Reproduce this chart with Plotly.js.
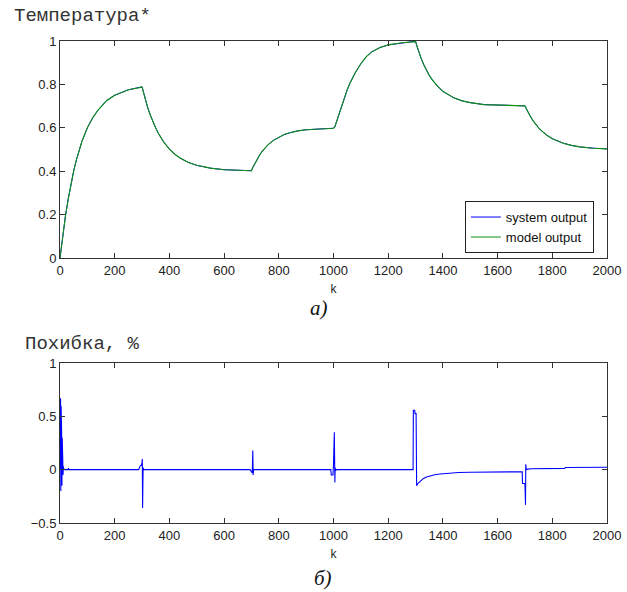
<!DOCTYPE html>
<html>
<head>
<meta charset="utf-8">
<script src="https://cdn.plot.ly/plotly-3.0.1.min.js"></script>
<style>html,body{margin:0;padding:0;background:#fff;}#chart{width:627px;height:592px;}</style>
</head>
<body>
<div id="chart"></div>
<script>
// Top panel: temperature (normalised)
const kTemp = [0,5,10,20,30,40,50,60,80,100,120,140,170,200,250,300,
  305,310,320,330,340,350,360,380,400,420,440,470,500,550,600,650,700,
  705,710,720,730,740,750,760,780,800,820,840,870,900,950,1000,
  1005,1010,1020,1030,1040,1050,1060,1080,1100,1120,1140,1170,1200,1250,1300,
  1305,1310,1320,1330,1340,1350,1360,1380,1400,1420,1440,1470,1500,1550,1600,1650,1700,
  1705,1710,1720,1730,1740,1750,1760,1780,1800,1820,1840,1870,1900,1950,2000];
const systemOutput = [0,0.054,0.104,0.194,0.271,0.342,0.401,0.452,0.537,0.600,0.647,0.683,0.725,0.750,0.775,0.789,
  0.762,0.739,0.696,0.659,0.627,0.599,0.574,0.533,0.502,0.478,0.460,0.440,0.427,0.414,0.407,0.404,0.402,
  0.417,0.430,0.454,0.475,0.493,0.508,0.521,0.542,0.557,0.569,0.577,0.586,0.591,0.596,0.598,
  0.605,0.625,0.665,0.705,0.742,0.775,0.805,0.855,0.895,0.928,0.950,0.970,0.982,0.992,0.999,
  0.976,0.956,0.921,0.891,0.865,0.842,0.823,0.792,0.768,0.751,0.738,0.724,0.716,0.707,0.704,0.702,0.701,
  0.688,0.675,0.652,0.632,0.615,0.600,0.587,0.566,0.550,0.538,0.529,0.519,0.512,0.506,0.503];
const modelOutput = [0,0.054,0.104,0.194,0.271,0.342,0.401,0.452,0.537,0.600,0.647,0.683,0.725,0.750,0.775,0.787,
  0.762,0.739,0.696,0.659,0.627,0.599,0.574,0.533,0.502,0.478,0.460,0.440,0.427,0.414,0.407,0.404,0.402,
  0.417,0.430,0.454,0.475,0.493,0.508,0.521,0.542,0.557,0.569,0.577,0.586,0.591,0.596,0.598,
  0.605,0.625,0.665,0.705,0.742,0.775,0.805,0.855,0.895,0.928,0.950,0.970,0.982,0.992,0.997,
  0.976,0.956,0.921,0.891,0.865,0.842,0.823,0.792,0.768,0.751,0.738,0.724,0.716,0.707,0.704,0.702,0.701,
  0.688,0.675,0.652,0.632,0.615,0.600,0.587,0.566,0.550,0.538,0.529,0.519,0.512,0.506,0.503];

// Bottom panel: error, %
const kErr = [0,2,3,4,5,6,7,8,9,10,11,12,14,29,31,33,
  288,292,297,299,301,302,303,304,306,
  695,699,703,705,706,708,
  990,992,998,1000,1003,1004,1005,1006,1008,1010,
  1291,1292,1297,1298,1302,1304,1310,1320,1329,1340,1353,1370,1389,1410,1426,1457,1500,1600,1690,
  1691,1700,1702,1703,1705,1710,1725,1845,1848,2000];
const errorPct = [0,0.67,-0.2,0.6,-0.18,0.34,-0.15,0.3,-0.1,0.1,-0.05,0.03,0,0,0.015,0,
  0,0.03,0.045,0.05,0.1,-0.36,-0.15,0.02,0,
  0,-0.02,-0.03,0.18,-0.05,0,
  0,-0.05,-0.05,0.05,0.35,0.1,-0.12,0.02,-0.01,0,
  0,0.557,0.557,0.525,0.525,-0.15,-0.125,-0.1,-0.082,-0.068,-0.057,-0.048,-0.041,-0.035,-0.031,-0.027,-0.024,-0.022,-0.02,
  -0.13,-0.13,-0.33,0.05,0,0.005,0.008,0.012,0.02,0.022];

const xTicks = [0,200,400,600,800,1000,1200,1400,1600,1800,2000];
const yTicksTop = [0,0.2,0.4,0.6,0.8,1];
const yTicksBottom = [-0.5,0,0.5,1];
const seriesNames = ['system output','model output'];
const panelTitles = ['Температура*','Похибка, %'];
const captions = ['a)','б)'];

const tickFont = {family:'Liberation Sans, Arial, sans-serif', size:13, color:'#222'};
const axBase = {showline:true, linecolor:'#333', linewidth:1, mirror:'ticks', ticks:'inside', ticklen:5,
  tickcolor:'#333', showgrid:false, zeroline:false, tickfont:tickFont};

const traces = [
  {x:kTemp, y:systemOutput, name:seriesNames[0], type:'scatter', mode:'lines', line:{color:'#0000ff', width:1}, xaxis:'x', yaxis:'y'},
  {x:kTemp, y:modelOutput, name:seriesNames[1], type:'scatter', mode:'lines', line:{color:'#119111', width:1.1}, xaxis:'x', yaxis:'y'},
  {x:kErr, y:errorPct, name:'error', type:'scatter', mode:'lines', line:{color:'#0000ff', width:1.1}, xaxis:'x2', yaxis:'y2', showlegend:false}
];

const layout = {
  width:627, height:592,
  margin:{l:60, r:20, t:41, b:69},
  paper_bgcolor:'#fff', plot_bgcolor:'#fff',
  showlegend:true,
  legend:{x:0.976, xanchor:'right', y:0.56, yanchor:'bottom', bgcolor:'#fff', bordercolor:'#222', borderwidth:1,
    font:{family:'Liberation Sans, Arial, sans-serif', size:13, color:'#111'}, tracegroupgap:0},
  xaxis:Object.assign({}, axBase, {domain:[0,1], range:[0,2000], tickvals:xTicks, anchor:'y',
    title:{text:'k', font:{family:'Liberation Sans, Arial, sans-serif', size:12, color:'#222'}, standoff:8}}),
  yaxis:Object.assign({}, axBase, {domain:[0.5498,1], range:[0,1], tickvals:yTicksTop, anchor:'x'}),
  xaxis2:Object.assign({}, axBase, {domain:[0,1], range:[0,2000], tickvals:xTicks, anchor:'y2',
    title:{text:'k', font:{family:'Liberation Sans, Arial, sans-serif', size:12, color:'#222'}, standoff:8}}),
  yaxis2:Object.assign({}, axBase, {domain:[0,0.332], range:[-0.5,1], tickvals:yTicksBottom, anchor:'x2'}),
  annotations:[
    {text:panelTitles[0], xref:'paper', yref:'paper', x:-0.087, y:1.025, xanchor:'left', yanchor:'bottom', showarrow:false,
      font:{family:'Liberation Mono, Courier New, monospace', size:19, color:'#333'}},
    {text:panelTitles[1], xref:'paper', yref:'paper', x:-0.068, y:0.345, xanchor:'left', yanchor:'bottom', showarrow:false,
      font:{family:'Liberation Mono, Courier New, monospace', size:19, color:'#333'}},
    {text:'<i>'+captions[0]+'</i>', xref:'paper', yref:'paper', x:0.473, y:0.446, xanchor:'center', yanchor:'middle', showarrow:false,
      font:{family:'Liberation Serif, Times New Roman, serif', size:21, color:'#111'}},
    {text:'<i>'+captions[1]+'</i>', xref:'paper', yref:'paper', x:0.48, y:-0.114, xanchor:'center', yanchor:'middle', showarrow:false,
      font:{family:'Liberation Serif, Times New Roman, serif', size:21, color:'#111'}}
  ]
};

Plotly.newPlot('chart', traces, layout, {staticPlot:true, displayModeBar:false});
</script>
</body>
</html>
